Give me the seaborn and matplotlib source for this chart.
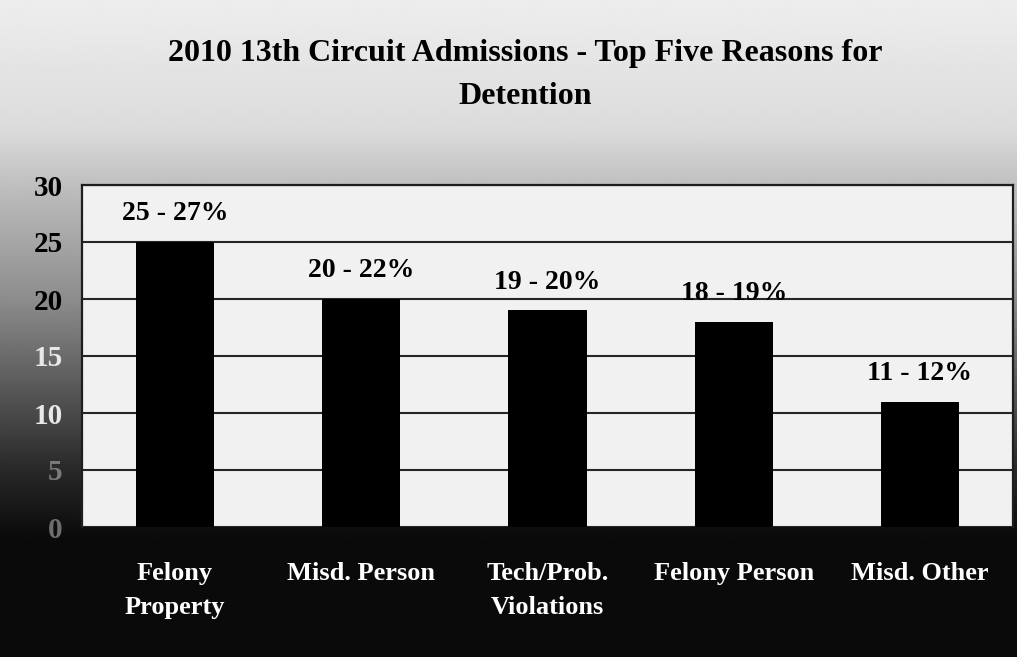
import numpy as np
import matplotlib
matplotlib.use("Agg")
import matplotlib.pyplot as plt
import seaborn as sns

# Top five detention reasons: admissions count and share of all admissions
categories = ["Felony\nProperty", "Misd. Person", "Tech/Prob.\nViolations",
              "Felony Person", "Misd. Other"]
admissions = [25, 20, 19, 18, 11]
share_pct = [27, 22, 20, 19, 12]
y_ticks = [0, 5, 10, 15, 20, 25, 30]
title = "2010 13th Circuit Admissions - Top Five Reasons for\nDetention"

sns.set_theme(style="white")
plt.rcParams["font.family"] = ["Liberation Serif", "DejaVu Serif"]
plt.rcParams["font.weight"] = "bold"

W, H = 1017, 657
fig = plt.figure(figsize=(W / 100, H / 100), dpi=100)

# Page backdrop: light at the top, fading to black under the plot
bg = fig.add_axes([0, 0, 1, 1], zorder=0)
rows = np.arange(H)
shade = np.interp(rows, [0, 130, 190, 300, 400, 470, 527, 540, H],
                  [0.93, 0.86, 0.74, 0.55, 0.32, 0.16, 0.06, 0.04, 0.04])
bg.imshow(np.tile(shade[:, None], (1, 8)), cmap="gray", vmin=0, vmax=1,
          aspect="auto", extent=[0, 1, 0, 1], interpolation="bilinear")
bg.set_axis_off()

ax = fig.add_axes([82 / W, 130 / H, 931 / W, 342 / H], zorder=1)
ax.set_facecolor("#f1f1f1")

sns.barplot(x=categories, y=admissions, color="black", saturation=1,
            width=0.42, edgecolor="black", linewidth=0, ax=ax, zorder=3)

ax.set_xlim(-0.5, len(categories) - 0.5)
ax.set_ylim(0, 30)
ax.set_yticks(y_ticks)
ax.set_axisbelow(True)
ax.yaxis.grid(True, color="#262626", linewidth=1.5)
ax.xaxis.grid(False)
for side in ("left", "right", "top"):
    ax.spines[side].set_visible(True)
    ax.spines[side].set_color("#1e1e1e")
    ax.spines[side].set_linewidth(1.6)
ax.spines["bottom"].set_visible(False)
ax.set_xlabel("")
ax.set_ylabel("")

ax.tick_params(axis="x", length=0, pad=25, labelsize=19, labelcolor="white")
ax.tick_params(axis="y", length=0, pad=14, labelsize=21)
for lab in ax.get_xticklabels():
    lab.set_fontweight("bold")
    lab.set_linespacing(1.6)
tick_colors = {0: "#6e6e6e", 5: "#7a7a7a", 10: "#e8e8e8", 15: "#e8e8e8",
               20: "black", 25: "black", 30: "black"}
for lab, t in zip(ax.get_yticklabels(), y_ticks):
    lab.set_fontweight("bold")
    lab.set_color(tick_colors[t])

for i, (v, p) in enumerate(zip(admissions, share_pct)):
    ax.text(i, v + 1.9, f"{v} - {p}%", ha="center", va="baseline",
            fontsize=20, fontweight="bold", color="black", zorder=4)

fig.text(525 / W, 1 - 75 / H, title, ha="center", va="center",
         fontsize=23, fontweight="bold", color="black", linespacing=1.6)

fig.savefig("out.png", dpi=100)
